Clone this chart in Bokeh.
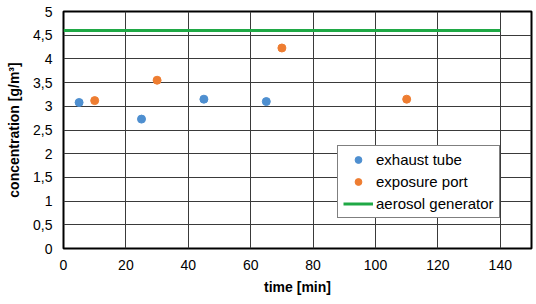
from bokeh.plotting import figure
from bokeh.models import FixedTicker, Legend, LegendItem, Range1d
from bokeh.embed import file_html
from bokeh.resources import INLINE

exhaust_time = [5, 25, 45, 65]
exhaust_conc = [3.08, 2.73, 3.15, 3.10]
port_time = [10, 30, 70, 110]
port_conc = [3.12, 3.55, 4.23, 3.15]
gen_time = [0, 140]
gen_conc = [4.6, 4.6]

x_ticks = [0, 20, 40, 60, 80, 100, 120, 140]
y_ticks = [0, 0.5, 1, 1.5, 2, 2.5, 3, 3.5, 4, 4.5, 5]
y_labels = ["0", "0,5", "1", "1,5", "2", "2,5", "3", "3,5", "4", "4,5", "5"]

FONT = "Liberation Sans"

p = figure(width=536, height=304, output_backend="svg", toolbar_location=None,
           x_range=Range1d(0, 150), y_range=Range1d(0, 5),
           min_border_left=63, min_border_right=5, min_border_top=11, min_border_bottom=56)
p.outline_line_color = "black"
p.outline_line_width = 2
p.background_fill_color = "white"
p.border_fill_color = "white"

p.xaxis.ticker = FixedTicker(ticks=x_ticks)
p.yaxis.ticker = FixedTicker(ticks=y_ticks)
p.yaxis.major_label_overrides = {t: l for t, l in zip(y_ticks, y_labels)}
p.xaxis.major_label_overrides = {t: str(t) for t in x_ticks}
for ax in (p.xaxis, p.yaxis):
    ax.axis_line_color = None
    ax.major_tick_line_color = None
    ax.minor_tick_line_color = None
    ax.major_tick_in = 0
    ax.major_tick_out = 0
    ax.minor_tick_in = 0
    ax.minor_tick_out = 0
    ax.major_label_text_font = FONT
    ax.major_label_text_font_size = "14px"
    ax.major_label_text_color = "black"
    ax.axis_label_text_font = FONT
    ax.axis_label_text_font_size = "14px"
    ax.axis_label_text_font_style = "bold"
    ax.axis_label_text_color = "black"
p.xaxis.major_label_standoff = 11
p.yaxis.major_label_standoff = 11
p.xaxis.axis_label = "time [min]"
p.yaxis.axis_label = "concentration [g/m³]"
p.xaxis.axis_label_standoff = 6
p.yaxis.axis_label_standoff = 8

p.xgrid.ticker = FixedTicker(ticks=x_ticks)
p.ygrid.ticker = FixedTicker(ticks=y_ticks)
for g in (p.xgrid, p.ygrid):
    g.grid_line_color = "#3a3a3a"
    g.grid_line_width = 1

r_gen = p.line(gen_time, gen_conc, line_color="#1fa845", line_width=3)
r_ex = p.scatter(exhaust_time, exhaust_conc, size=8, fill_color="#4e8fd0", line_color="#4e8fd0")
r_port = p.scatter(port_time, port_conc, size=8, fill_color="#ee7d31", line_color="#ee7d31")

legend = Legend(items=[LegendItem(label="exhaust tube", renderers=[r_ex]),
                       LegendItem(label="exposure port", renderers=[r_port]),
                       LegendItem(label="aerosol generator", renderers=[r_gen])],
                location=(274, 30))
legend.label_text_font = FONT
legend.label_text_font_size = "15px"
legend.label_text_color = "black"
legend.border_line_color = "black"
legend.border_line_width = 1
legend.background_fill_alpha = 1
legend.glyph_width = 30
legend.glyph_height = 17
legend.label_height = 17
legend.label_standoff = 3
legend.spacing = 5
legend.padding = 5
legend.margin = 0
p.add_layout(legend, "center")

open("out.html", "w").write(file_html(p, INLINE))
